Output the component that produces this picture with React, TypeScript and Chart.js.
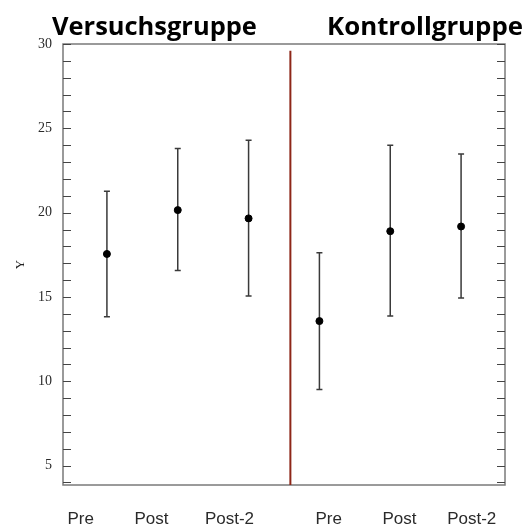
import React, { useEffect, useRef } from "react";
import { Chart, registerables } from "chart.js";

Chart.register(...registerables);

const categories = ["Pre", "Post", "Post-2", "Pre", "Post", "Post-2"];
const groupTitles = ["Versuchsgruppe", "Kontrollgruppe"];
const xPositions = [1, 2, 3, 4, 5, 6];
const means = [17.55, 20.15, 19.66, 13.57, 18.9, 19.18];
const upper = [21.27, 23.8, 24.3, 17.62, 24.0, 23.47];
const lower = [13.83, 16.57, 15.06, 9.52, 13.87, 14.94];
const labelPositions = [0.63, 1.63, 2.73, 4.13, 5.13, 6.15];
const yTicks = [5, 10, 15, 20, 25, 30];
const minorTicks = [4, 5, 6, 7, 8, 9, 10, 11, 12, 13, 14, 15, 16, 17, 18, 19, 20, 21, 22, 23, 24, 25, 26, 27, 28, 29, 30];
const dividerX = 3.59;
const dividerRange = [3.85, 29.6];
const X_MIN = 0.38;
const X_MAX = 6.62;
const Y_MIN = 3.85;
const Y_MAX = 30;

const decorPlugin = {
  id: "decor",
  beforeDatasetsDraw(chart: any) {
    const { ctx, chartArea, scales } = chart;
    const xs = scales.x;
    const ys = scales.y;
    ctx.save();
    ctx.strokeStyle = "#7a7a7a";
    ctx.lineWidth = 1.5;
    ctx.strokeRect(chartArea.left, chartArea.top, chartArea.right - chartArea.left, chartArea.bottom - chartArea.top);
    ctx.strokeStyle = "#444";
    ctx.lineWidth = 1;
    minorTicks.forEach((v) => {
      const y = Math.round(ys.getPixelForValue(v)) + 0.5;
      ctx.beginPath();
      ctx.moveTo(chartArea.left, y);
      ctx.lineTo(chartArea.left + 8, y);
      ctx.moveTo(chartArea.right, y);
      ctx.lineTo(chartArea.right - 8, y);
      ctx.stroke();
    });
    ctx.strokeStyle = "#3a3a3a";
    ctx.lineWidth = 1.5;
    xPositions.forEach((xv, i) => {
      const x = xs.getPixelForValue(xv);
      const yt = ys.getPixelForValue(upper[i]);
      const yb = ys.getPixelForValue(lower[i]);
      ctx.beginPath();
      ctx.moveTo(x, yt);
      ctx.lineTo(x, yb);
      ctx.moveTo(x - 3, yt);
      ctx.lineTo(x + 3, yt);
      ctx.moveTo(x - 3, yb);
      ctx.lineTo(x + 3, yb);
      ctx.stroke();
    });
    ctx.restore();
  },
  afterDraw(chart: any) {
    const { ctx, chartArea } = chart;
    ctx.save();
    ctx.fillStyle = "#000";
    ctx.textBaseline = "alphabetic";
    const targetWidths = [205, 196];
    const fam = '"Open Sans", "DejaVu Sans", sans-serif';
    groupTitles.forEach((t, i) => {
      ctx.font = `bold 24px ${fam}`;
      const w = ctx.measureText(t).width;
      const size = (24 * targetWidths[i]) / w;
      ctx.font = `bold ${size.toFixed(2)}px ${fam}`;
      if (i === 0) {
        ctx.textAlign = "left";
        ctx.fillText(t, chartArea.left - 11, 35);
      } else {
        ctx.textAlign = "right";
        ctx.fillText(t, chartArea.right + 18, 35);
      }
    });
    ctx.restore();
  },
};

export default function App() {
  const ref = useRef<HTMLCanvasElement | null>(null);
  useEffect(() => {
    if (!ref.current) return;
    const chart = new Chart(ref.current, {
      type: "scatter",
      data: {
        datasets: [
          {
            label: "divider",
            type: "line",
            data: [
              { x: dividerX, y: dividerRange[0] },
              { x: dividerX, y: dividerRange[1] },
            ],
            borderColor: "#8e2718",
            borderWidth: 2,
            pointRadius: 0,
            order: 2,
          } as any,
          {
            label: "mean",
            data: xPositions.map((x, i) => ({ x, y: means[i] })),
            backgroundColor: "#000",
            borderColor: "#000",
            pointRadius: 3.5,
            order: 1,
          },
        ],
      },
      options: {
        animation: false,
        responsive: true,
        maintainAspectRatio: false,
        layout: { padding: { left: 0, right: 24, top: 44, bottom: 0 } },
        plugins: { legend: { display: false }, tooltip: { enabled: false } },
        scales: {
          x: {
            type: "linear",
            min: X_MIN,
            max: X_MAX,
            grid: { display: false, drawTicks: false },
            border: { display: false },
            afterBuildTicks: (s: any) => {
              s.ticks = labelPositions.map((v) => ({ value: v }));
            },
            afterFit: (s: any) => {
              s.height = 42;
            },
            ticks: {
              autoSkip: false,
              maxRotation: 0,
              padding: 24,
              color: "#2a2a2a",
              font: { family: '"Liberation Sans", Arial, sans-serif', size: 17 },
              callback: (_v: any, i: number) => categories[i],
            },
          },
          y: {
            min: Y_MIN,
            max: Y_MAX,
            grid: { display: false, drawTicks: false },
            border: { display: false },
            afterBuildTicks: (s: any) => {
              s.ticks = yTicks.map((v) => ({ value: v }));
            },
            afterFit: (s: any) => {
              s.width = 63;
            },
            title: {
              display: true,
              text: "Y",
              color: "#222",
              font: { family: '"Liberation Serif", serif', size: 13 },
              padding: { top: 13, bottom: 0 },
            },
            ticks: {
              padding: 11,
              color: "#2a2a2a",
              font: { family: '"Liberation Serif", serif', size: 14 },
            },
          },
        },
      },
      plugins: [decorPlugin],
    });
    return () => chart.destroy();
  }, []);
  return (
    <div style={{ position: "fixed", left: 0, top: 0, width: 529, height: 527, background: "#fff" }}>
      <canvas ref={ref} />
    </div>
  );
}
